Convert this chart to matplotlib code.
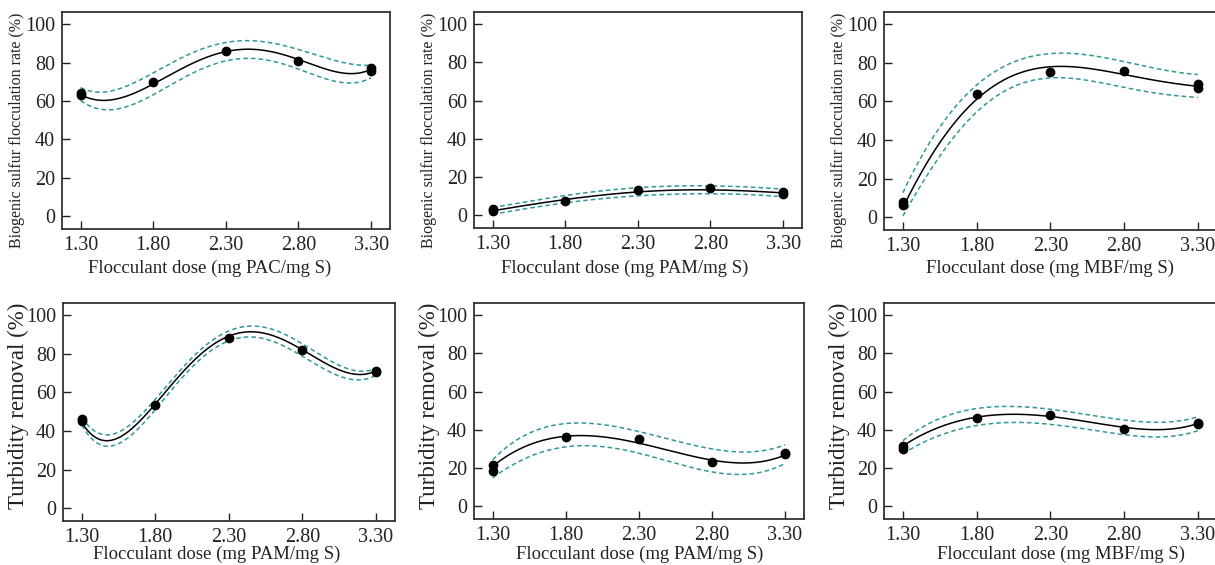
import numpy as np
import matplotlib
matplotlib.use("Agg")
import matplotlib.pyplot as plt

plt.rcParams['font.family'] = ['Liberation Serif', 'DejaVu Serif']

# measured doses (replicates at the ends)
dose = [1.30, 1.30, 1.80, 2.30, 2.80, 3.30, 3.30]
# dose positions where the fitted curve / bands were read
grid = [1.30, 1.55, 1.80, 2.05, 2.30, 2.55, 2.80, 3.05, 3.30]

# top row: biogenic sulfur flocculation rate (%)
pac_floc = [63.0, 64.0, 70.1, 86.1, 81.1, 75.5, 77.0]
pac_floc_fit = [63.4, 60.8, 69.4, 78.6, 85.6, 86.8, 81.6, 75.3, 76.6]
pac_floc_hi = [67.0, 66.0, 74.7, 84.4, 90.5, 91.3, 86.5, 81.3, 78.6]
pac_floc_lo = [60.4, 55.2, 64.2, 73.4, 80.4, 82.1, 76.9, 70.0, 72.2]

pam_floc = [2.0, 3.0, 7.2, 13.1, 14.1, 11.2, 12.2]
pam_floc_fit = [2.3, 5.4, 8.2, 10.5, 12.2, 13.1, 13.3, 12.7, 11.7]
pam_floc_hi = [4.0, 7.3, 10.3, 12.7, 14.5, 15.2, 15.4, 14.8, 13.6]
pam_floc_lo = [0.5, 3.6, 6.6, 8.6, 10.1, 11.0, 11.3, 10.8, 9.6]

mbf_floc = [6.2, 7.8, 64.0, 75.2, 76.0, 67.2, 68.8]
mbf_floc_fit = [5.0, 38.0, 62.0, 73.1, 77.6, 77.6, 74.1, 70.2, 67.9]
mbf_floc_hi = [12.8, 46.0, 69.3, 80.5, 84.0, 84.3, 81.4, 76.0, 74.1]
mbf_floc_lo = [0.7, 31.0, 55.5, 67.2, 71.7, 71.6, 67.2, 63.8, 62.1]

# bottom row: turbidity removal (%)
pac_turb = [45.0, 46.2, 53.3, 88.4, 82.2, 70.5, 71.2]
pac_turb_fit = [44.3, 36.7, 53.4, 76.7, 88.3, 90.9, 82.2, 71.6, 71.2]
pac_turb_hi = [47.0, 40.0, 55.2, 79.3, 91.4, 93.6, 85.3, 74.1, 72.4]
pac_turb_lo = [43.1, 33.3, 50.9, 74.1, 85.7, 87.9, 79.3, 68.1, 69.0]

pam_turb = [18.5, 21.5, 36.2, 35.1, 23.1, 27.2, 28.0]
pam_turb_fit = [20.9, 32.2, 36.5, 36.5, 33.0, 28.2, 24.3, 22.6, 26.8]
pam_turb_hi = [24.3, 38.3, 43.1, 43.0, 39.1, 33.9, 30.4, 28.2, 32.2]
pam_turb_lo = [14.8, 26.1, 30.8, 31.3, 27.8, 22.6, 17.7, 17.0, 22.3]

mbf_turb = [30.2, 31.6, 46.1, 48.0, 40.2, 43.2, 43.8]
mbf_turb_fit = [31.5, 41.6, 46.4, 48.2, 47.1, 44.2, 41.2, 40.2, 43.3]
mbf_turb_hi = [34.3, 45.9, 51.1, 52.3, 50.8, 47.7, 45.4, 43.8, 46.8]
mbf_turb_lo = [27.4, 37.3, 41.9, 44.0, 43.0, 40.2, 37.3, 36.4, 39.5]

xticks = [1.30, 1.80, 2.30, 2.80, 3.30]
yticks = [0, 20, 40, 60, 80, 100]

panels = [
    (pac_floc, pac_floc_fit, pac_floc_hi, pac_floc_lo,
     "Flocculant dose (mg PAC/mg S)", "Biogenic sulfur flocculation rate (%)"),
    (pam_floc, pam_floc_fit, pam_floc_hi, pam_floc_lo,
     "Flocculant dose (mg PAM/mg S)", "Biogenic sulfur flocculation rate (%)"),
    (mbf_floc, mbf_floc_fit, mbf_floc_hi, mbf_floc_lo,
     "Flocculant dose (mg MBF/mg S)", "Biogenic sulfur flocculation rate (%)"),
    (pac_turb, pac_turb_fit, pac_turb_hi, pac_turb_lo,
     "Flocculant dose (mg PAM/mg S)", "Turbidity removal (%)"),
    (pam_turb, pam_turb_fit, pam_turb_hi, pam_turb_lo,
     "Flocculant dose (mg PAM/mg S)", "Turbidity removal (%)"),
    (mbf_turb, mbf_turb_fit, mbf_turb_hi, mbf_turb_lo,
     "Flocculant dose (mg MBF/mg S)", "Turbidity removal (%)"),
]

W, H = 1215, 565
# axes boxes in pixels: left, top, right, bottom
boxes = [
    (62, 12, 390, 229), (474, 12, 802, 228), (884, 12, 1217, 230),
    (63, 303, 395, 521), (474, 303, 804, 519), (884, 303, 1217, 519),
]
# label centres in pixels: x-label centre x, x-label centre y, y-label centre y
label_pos = [
    (210, 268, 130), (625, 268, 130), (1050, 268, 130),
    (217, 554, 406), (640, 554, 406), (1061, 554, 406),
]

teal = '#319898'
ink = '#222222'
fig = plt.figure(figsize=(W / 100, H / 100), dpi=100)
xs = np.linspace(1.30, 3.30, 200)

for i, (pts, fit, hi, lo, xlab, ylab) in enumerate(panels):
    l, t, r, b = boxes[i]
    ax = fig.add_axes([l / W, 1 - b / H, (r - l) / W, (b - t) / H])
    for curve, style in [(hi, 'dash'), (lo, 'dash'), (fit, 'solid')]:
        coef = np.polyfit(grid, curve, 5)
        if style == 'dash':
            ax.plot(xs, np.polyval(coef, xs), color=teal, lw=1.1,
                    dashes=(3, 2))
        else:
            ax.plot(xs, np.polyval(coef, xs), color='black', lw=1.1)
    ax.plot(dose, pts, 'o', color='black', ms=6, clip_on=False, zorder=5)

    ax.set_xlim(1.172, 3.43)
    ax.set_ylim(-6.7, 106.4)
    ax.set_xticks(xticks)
    ax.set_xticklabels(['%.2f' % v for v in xticks])
    ax.set_yticks(yticks)
    ax.tick_params(direction='in', length=6, width=1, labelsize=14.5,
                   colors=ink, pad=5)
    for s in ax.spines.values():
        s.set_color('#333333')
        s.set_linewidth(1.3)

    xc, xy, yc = label_pos[i]
    ax.set_xlabel(xlab, fontsize=13.5, color=ink)
    ax.xaxis.set_label_coords((xc - l) / (r - l), (b - xy) / (b - t))
    ax.xaxis.label.set_va('center')
    ax.set_ylabel(ylab, fontsize=11.5 if i < 3 else 16.5, color=ink)
    ax.yaxis.set_label_coords(-45 / (r - l), (b - yc) / (b - t))
    ax.yaxis.label.set_va('center')

fig.savefig('out.png', dpi=100)
